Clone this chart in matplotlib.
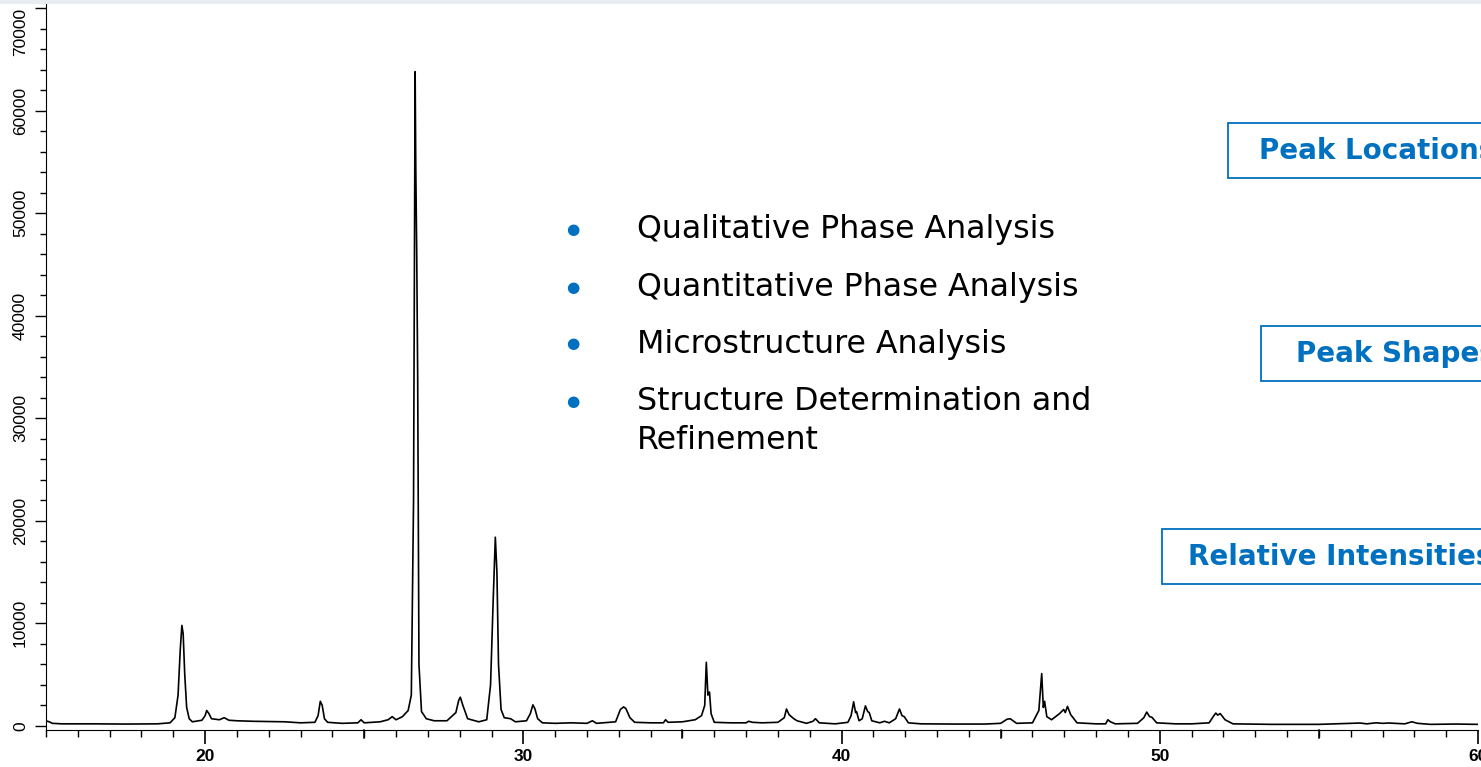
import matplotlib.pyplot as plt
from matplotlib.patches import Rectangle
from matplotlib.ticker import MultipleLocator

# diffraction pattern: 2theta (deg) and counts
two_theta = [15.0, 15.1, 15.2, 15.5, 16.5, 17.5, 18.5, 18.9, 19.05, 19.15, 19.22, 19.27, 19.31, 19.36, 19.42, 19.5, 19.6,
             19.9, 20.0, 20.05, 20.12, 20.2, 20.45, 20.6, 20.75, 21.0, 21.5, 22.0, 22.5, 23.0, 23.45, 23.55, 23.62, 23.68, 23.75, 23.85,
             24.3, 24.8, 24.9, 25.0, 25.5, 25.75, 25.88, 26.0, 26.2, 26.38, 26.48, 26.55, 26.6, 26.62, 26.65,
             26.68, 26.72, 26.8, 26.95, 27.2, 27.6, 27.88, 27.97, 28.02, 28.1, 28.25, 28.6, 28.85, 28.97, 29.05,
             29.12, 29.17, 29.22, 29.3, 29.4, 29.6, 29.75, 30.1, 30.22, 30.3, 30.36, 30.45, 30.6, 31.0, 31.5, 32.0, 32.17,
             32.3, 32.9, 33.05, 33.15, 33.22, 33.35, 33.5, 34.0, 34.4, 34.47, 34.55, 35.0, 35.4, 35.6, 35.7, 35.75,
             35.8, 35.85, 35.9, 36.0, 36.5, 37.0, 37.08, 37.2, 37.5, 38.0, 38.2, 38.27, 38.35, 38.5, 38.6, 38.9,
             39.1, 39.18, 39.3, 39.8, 40.2, 40.3, 40.38, 40.44, 40.47, 40.55, 40.65, 40.75, 40.82, 40.87, 40.95,
             41.2, 41.35, 41.5, 41.7, 41.82, 41.9, 41.97, 42.1, 42.5, 43.5, 44.5, 45.0, 45.2, 45.3, 45.5, 46.0,
             46.2, 46.29, 46.34, 46.38, 46.45, 46.6, 46.85, 46.98, 47.03, 47.1, 47.2, 47.4, 48.0, 48.3, 48.37,
             48.45, 48.6, 49.3, 49.5, 49.59, 49.68, 49.75, 49.9, 50.5, 51.0, 51.55, 51.7, 51.76, 51.82, 51.9,
             52.05, 52.3, 53.5, 55.0, 56.0, 56.3, 56.5, 56.8, 57.0, 57.2, 57.7, 57.92, 58.1, 58.5, 59.3, 60.0]
counts = [500, 400, 250, 200, 200, 180, 200, 300, 800, 3000, 7500, 9800, 9000, 5000, 1800, 700, 400,
          550, 1000, 1500, 1200, 700, 600, 800, 550, 500, 450, 420, 400, 300, 350, 1000, 2400, 2000, 700, 350,
          250, 300, 600, 300, 400, 600, 900, 600, 900, 1500, 3000, 22000, 63800, 54500, 46000,
          34000, 6000, 1400, 700, 500, 500, 1300, 2500, 2800, 2000, 700, 400, 600, 4000, 12000,
          18400, 15000, 6000, 1600, 800, 700, 400, 500, 1200, 2050, 1700, 700, 300, 250, 300, 250, 500,
          250, 400, 1600, 1850, 1700, 800, 350, 300, 300, 600, 350, 400, 600, 1000, 2000, 6200,
          3000, 3300, 1200, 350, 300, 300, 450, 350, 300, 350, 800, 1650, 1100, 700, 500, 250,
          450, 700, 300, 200, 350, 1000, 2350, 1300, 1400, 500, 700, 1950, 1400, 1300, 500,
          300, 450, 300, 700, 1650, 1000, 900, 300, 200, 180, 180, 250, 650, 700, 250, 300,
          1500, 5100, 1800, 2400, 900, 600, 1200, 1600, 1300, 1900, 1100, 300, 200, 200, 600,
          400, 200, 250, 800, 1350, 900, 850, 300, 200, 200, 300, 1000, 1250, 1050, 1200,
          600, 200, 150, 150, 250, 280, 200, 300, 250, 280, 200, 400, 250, 150, 180, 150]

bullets = ["Qualitative Phase Analysis", "Quantitative Phase Analysis",
           "Microstructure Analysis", "Structure Determination and\nRefinement"]
box_labels = ["Peak Locations", "Peak Shapes", "Relative Intensities"]

blue = "#0070C0"

fig = plt.figure(figsize=(14.81, 7.67), dpi=100)
W, H = 1481.0, 767.0

# light strip at the very top
fig.patches.append(Rectangle((0, 1 - 4 / H), 1, 4 / H, transform=fig.transFigure,
                             facecolor="#E8EDF1", edgecolor="none"))

ax = fig.add_axes([46 / W, (H - 730) / H, (1478 - 46) / W, (730 - 3) / H])
ax.plot(two_theta, counts, color="black", lw=1.2)
ax.set_xlim(15, 60)
ax.set_ylim(-400, 70500)
ax.spines["top"].set_visible(False)
ax.spines["right"].set_visible(False)

ax.xaxis.set_major_locator(MultipleLocator(10))
ax.xaxis.set_minor_locator(MultipleLocator(1))
ax.yaxis.set_major_locator(MultipleLocator(10000))
ax.yaxis.set_minor_locator(MultipleLocator(2000))
ax.tick_params(axis="x", which="major", direction="out", length=10, width=1.2, pad=4)
ax.tick_params(axis="x", which="minor", direction="out", length=5, width=1)
ax.tick_params(axis="y", which="major", direction="out", length=8, width=1, pad=5)
ax.tick_params(axis="y", which="minor", direction="out", length=4, width=1)
ax.set_yticks(range(0, 70001, 10000))

for lab in ax.get_xticklabels():
    lab.set_fontfamily("Liberation Sans")
    lab.set_fontweight("bold")
    lab.set_fontsize(12.5)
ylabs = ax.get_yticklabels()
for lab in ylabs:
    lab.set_fontfamily("Liberation Sans")
    lab.set_fontsize(12.5)
    lab.set_rotation(90)
    lab.set_va("center")
ylabs[-1].set_va("top")

# tick marks at the 5s, a little longer than the minor ones
for v in [25, 35, 45, 55]:
    ax.plot([v, v], [0, -8 / 727], transform=ax.get_xaxis_transform(),
            color="black", lw=1.1, clip_on=False)

# bullet list
ys = [229, 287, 344, 401]
for text, yy in zip(bullets, ys):
    fig.text(573 / W, 1 - yy / H, "\u25CF", color=blue, fontsize=11, ha="center", va="center")
    fig.text(637 / W, 1 - (yy - 15) / H, text, fontsize=22.8, ha="left", va="top",
             family="DejaVu Sans", linespacing=1.35)

# boxed labels, running off the right edge
boxes = [(1228, 123, 1259), (1261, 326, 1296), (1162, 529, 1188)]
for label, (bx, by, tx) in zip(box_labels, boxes):
    fig.patches.append(Rectangle((bx / W, 1 - (by + 55) / H), 400 / W, 55 / H,
                                 transform=fig.transFigure, facecolor="white",
                                 edgecolor=blue, lw=1.3))
    fig.text(tx / W, 1 - (by + 28) / H, label, color=blue, fontsize=20, fontweight="bold",
             family="DejaVu Sans", ha="left", va="center")

fig.savefig("out.png", dpi=100)
